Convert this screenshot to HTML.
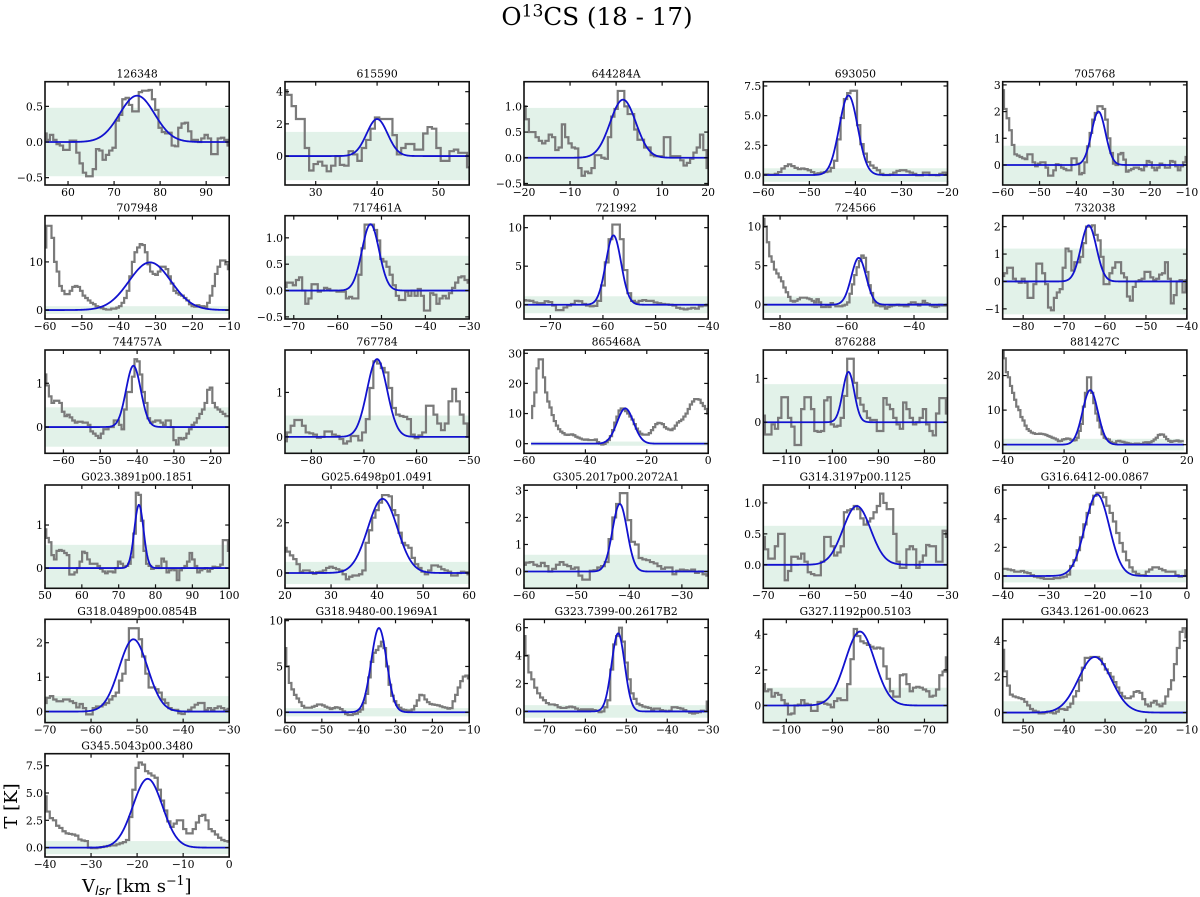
<!DOCTYPE html>
<html lang="en">
<head>
<meta charset="utf-8">
<title>O13CS (18 - 17) spectra</title>
<style>
html,body{margin:0;padding:0;background:#fff;}
svg{display:block;font-family:"DejaVu Serif","Liberation Serif",serif;}
</style>
</head>
<body>
<svg id="figure" xmlns="http://www.w3.org/2000/svg" width="1200" height="897" viewBox="0 0 1200 897">
<rect x="0" y="0" width="1200" height="897" fill="#ffffff"/>
<text x="597" y="25" text-anchor="middle" font-size="24.6" fill="#000">O<tspan dy="-8.5" font-size="17.2">13</tspan><tspan dy="8.5">CS (18 - 17)</tspan></text>
<text transform="translate(17,806) rotate(-90)" text-anchor="middle" font-size="18" fill="#000">T [K]</text>
<text x="82" y="892" font-size="18" fill="#000">V<tspan dy="3" font-size="12.6" font-style="italic" font-family="'DejaVu Sans',sans-serif">lsr</tspan><tspan dy="-3"> [km s</tspan><tspan dy="-7" font-size="12.6">−1</tspan><tspan dy="7">]</tspan></text>
<g id="panels"></g>
</svg>
<script>
const panelNames = ["126348","615590","644284A","693050","705768",
  "707948","717461A","721992","724566","732038",
  "744757A","767784","865468A","876288","881427C",
  "G023.3891p00.1851","G025.6498p01.0491","G305.2017p00.2072A1","G314.3197p00.1125","G316.6412-00.0867",
  "G318.0489p00.0854B","G318.9480-00.1969A1","G323.7399-00.2617B2","G327.1192p00.5103","G343.1261-00.0623",
  "G345.5043p00.3480"];

const xMin = [55,25,-20,-60,-60, -60,-72,-75,-85,-85, -65,-85,-60,-115,-40, 50,20,-60,-70,-40, -70,-60,-75,-105,-55, -40];
const xMax = [95,55,20,-20,-10, -10,-30,-40,-30,-40, -15,-50,0,-75,20, 100,60,-25,-30,0, -30,-10,-30,-65,-10, 0];
const yMin = [-0.603,-1.8,-0.53,-0.84,-0.75, -1.86,-0.54,-1.85,-1.83,-1.37, -0.6,-0.37,-3.2,-0.71,-2.5, -0.47,-0.61,-0.62,-0.38,-0.86, -0.32,-1.13,-0.8,-0.96,-0.56, -0.86];
const yMax = [0.846,4.62,1.48,7.86,3.12, 19.6,1.42,11.55,11.4,2.4, 1.76,1.955,31.1,1.65,27.4, 1.93,3.5,3.2,1.29,6.35, 2.68,10.15,6.6,4.84,5.2, 8.6];

const specStart = [55,25,-20,-60,-60, -60,-72,-75,-85,-85, -65,-85,-57.7,-115,-40, 50,20,-60,-70,-40, -70,-60,-75,-105,-55, -40];
const specEnd = [95,55,20,-20,-10, -10,-30,-40,-30,-40, -15,-50,0,-75,19, 100,60,-25,-30,0, -30,-10,-30,-65,-10, 0];

const rmsLevel = [0.48,1.5,0.97,0.57,0.72, 0.8,0.66,1.1,1.05,1.2, 0.45,0.48,0.7,0.87,1.7, 0.54,0.44,0.62,0.63,0.45, 0.45,0.45,0.45,1.0,0.63, 0.6];

const fitAmp = [0.65,2.3,1.13,6.7,2.0, 9.9,1.26,9.0,6.0,2.05, 1.4,1.75,11.7,1.15,15.8, 1.47,2.95,2.5,0.95,5.7, 2.1,9.2,5.6,4.15,3.1, 6.3];
const fitCenter = [75,40,1.5,-41.5,-34, -31.5,-52.5,-58,-56.5,-64, -41,-67.5,-27,-96.5,-11.5, 75.5,41.2,-41.8,-49.7,-19.5, -50.8,-34.5,-52,-84,-32.5, -17.7];
const fitSigma = [3.8,1.7,2.8,2.0,1.9, 5.7,1.95,1.45,2.2,1.9, 2.0,1.9,2.7,1.25,2.5, 1.25,3.2,1.4,3.0,2.65, 3.1,2.1,1.6,3.2,4.0, 3.2];

const xTickValues = [
  [60,70,80,90],[30,40,50],[-20,-10,0,10,20],[-60,-50,-40,-30,-20],[-60,-50,-40,-30,-20,-10],
  [-60,-50,-40,-30,-20,-10],[-70,-60,-50,-40,-30],[-70,-60,-50,-40],[-80,-60,-40],[-80,-70,-60,-50,-40],
  [-60,-50,-40,-30,-20],[-80,-70,-60,-50],[-60,-40,-20,0],[-110,-100,-90,-80],[-40,-20,0,20],
  [50,60,70,80,90,100],[20,30,40,50,60],[-60,-50,-40,-30],[-70,-60,-50,-40,-30],[-40,-30,-20,-10,0],
  [-70,-60,-50,-40,-30],[-60,-50,-40,-30,-20,-10],[-70,-60,-50,-40,-30],[-100,-90,-80,-70],[-50,-40,-30,-20,-10],
  [-40,-30,-20,-10,0]];
const yTickLabels = [
  ["-0.5","0.0","0.5"],["0","2","4"],["-0.5","0.0","0.5","1.0"],["0.0","2.5","5.0","7.5"],["0","1","2","3"],
  ["0","10"],["-0.5","0.0","0.5","1.0"],["0","5","10"],["0","5","10"],["-1","0","1","2"],
  ["0","1"],["0","1"],["0","10","20","30"],["0","1"],["0","10","20"],
  ["0","1"],["0","2"],["0","1","2","3"],["0.0","0.5","1.0"],["0","2","4","6"],
  ["0","1","2"],["0","5","10"],["0","2","4","6"],["0","2","4"],["0","2","4"],
  ["0.0","2.5","5.0","7.5"]];

const spec126348 = [.12,.03,.1,.03,-.03,-.05,-.11,-.11,.02,.02,-.15,-.3,-.43,-.48,-.48,-.38,-.1,-.12,-.25,-.18,-.12,-.08,.3,.38,.6,.62,.52,.43,.43,.7,.72,.72,.73,.6,.45,.2,.14,.12,.13,-.05,-.06,.2,.26,.27,.15,.03,.03,0,.05,.1,.05,-.17,-.17,.05,.06,.03,-.05];
const spec615590 = [4.1,3.8,3.1,2.3,2.3,.5,-.9,-.5,-.35,-.6,-.95,-.6,0,-.55,-.6,.3,.1,-.3,.5,1,1.7,2.4,2.3,2.3,2.3,1.3,.1,.5,.75,.75,.4,.4,1.4,1.8,1.7,.5,-.3,-.3,.3,.4,.2,.2,-.7];
const spec644284A = [1,.75,.5,.5,.4,.33,.28,.33,.45,.4,.15,.2,.65,.4,.28,.2,.18,-.2,-.35,-.27,-.3,-.2,.05,.05,0,-.02,.4,.8,.95,1.3,1.3,1,.85,.85,.55,.35,.35,.2,.2,.05,.03,.03,.03,.4,.4,.03,.03,.03,-.05,-.15,-.1,-.02,.1,.2,.45,.15,-.2];
const spec693050 = [.05,.05,.03,.03,.1,.25,.55,.75,.9,.75,.6,.5,.55,.5,.4,.25,.1,.15,.2,.25,.3,.6,1.2,3,4.8,6.4,6.9,7.1,7.1,4.2,2.6,1.8,1.1,.8,.6,.4,.1,0,0,.05,.2,.35,.4,.4,.3,.2,.1,-.02,-.02,.2,.2,0,0,-.02,.1,.2,.05];
const spec705768 = [2.8,2.1,1.75,1.3,.75,.4,.35,.3,.25,.22,.4,.4,.1,-.05,.05,.1,.1,-.1,-.4,-.4,-.2,.03,0,-.1,-.15,-.2,-.2,.25,.25,.05,-.35,-.3,.1,.7,1.2,1.7,1.95,2.2,2.2,2.1,1.7,1,.45,.05,0,.4,.45,.2,-.25,-.2,-.15,-.1,-.1,-.15,-.2,-.05,.15,.1,-.1,-.2,-.1,.05,0,-.1,-.1,.15,.12,-.05,-.2,-.05,.1,.3];
const spec707948 = [13,17.5,17.5,15,10,8,5,4,3.3,3.3,4,4.8,5,4.8,4,3,2.5,2,1.5,1.2,.8,.6,.4,.2,.1,.1,.3,.3,.5,.8,1.5,2.5,4,7,10,12,13,13.7,13.5,12,9.5,8,7.5,7.3,8,9,9,8.5,7,5.5,4,3.5,3.2,3,2.5,2,1.2,.8,.7,1,.8,.8,.6,1.5,3,5,7.5,9,10.3,10.3,9.5,8.5];
const spec717461A = [.07,.15,.15,.1,.2,.25,0,-.25,-.15,.12,.12,-.02,0,.05,.03,0,0,-.02,-.02,-.02,-.15,-.12,-.15,-.15,.3,.8,1.25,1.25,1.25,1.15,.95,.6,.55,.45,.3,.1,-.1,-.18,-.18,-.02,-.1,0,-.1,.03,-.1,-.38,-.38,-.05,-.08,-.25,-.15,-.1,-.15,-.05,.05,.15,.25,.27,.2,.15];
const spec721992 = [.6,.55,.5,.3,.2,.2,.45,.35,-.1,-.7,-.7,-.35,-.1,.1,.5,.45,.1,-.1,-.2,-.15,.5,2.5,5.5,8.5,10.4,10.4,8.5,4.5,1.5,.5,.3,.5,.6,.5,.5,.3,.2,.1,.05,0,-.1,-.4,-.5,-.6,-.5,-.4,-.5,-.2,-.1,0];
const spec724566 = [11,10,8,6.2,5.5,4.5,4,3.5,3,2.2,1.6,1,.5,.4,.5,.7,.9,.9,.9,.8,.7,.5,.3,.7,.3,-.3,-.3,-.1,-.3,.2,0,-.2,-.2,-.2,-.1,0,.3,1.4,2.6,3.8,4.8,5.6,6.3,6,4.2,2.5,1.5,.3,-.1,-.1,-.2,-.2,-.5,-.3,-.2,-.1,-.05,0,-.1,-.1,-.2,-.2,.1,.3,.3,.1,-.1,.1,.5,.2,.1,-.1,-.2,-.3,-.2,0,-.1,-.1,0];
const spec732038 = [.2,.3,.5,.5,.1,0,-.05,.1,-.05,-.6,-.6,-.1,.65,.65,.3,-.1,-.95,-1.05,-.6,-.4,-.28,.5,1.2,1.1,.4,.7,.7,.9,1.4,2,2,2.05,1.7,1.5,.9,-.1,-.1,.3,.5,.7,.7,.3,.15,-.55,-.7,-.2,0,.05,.1,.35,.35,.15,.05,.1,.25,.3,.7,.1,-.8,-.5,0,.05,-.4,.05];
const spec744757A = [1.2,.95,.7,.55,.6,.6,.55,.35,.25,.28,.22,.15,.1,.12,.12,.1,.1,.05,-.1,-.15,-.2,-.25,-.15,-.05,-.05,0,0,.15,.15,.05,-.05,.4,.8,.8,1.15,1.55,1.5,1.2,.8,.55,.2,.1,.12,.15,.15,.1,.05,.15,.15,0,-.3,-.4,-.25,-.28,-.25,-.15,-.05,.05,.1,.2,.3,.4,.55,.85,.9,.55,.45,.4,.35,.3,.25,.25];
const spec767784 = [-.1,.1,.25,.38,.38,.25,.1,.08,.05,-.02,0,.12,.12,.05,.02,-.05,-.15,-.1,.02,.02,-.08,.1,.4,1.1,1.7,1.65,1.55,1.45,1.1,.65,.5,.47,.45,.4,.05,-.03,.03,.1,.7,.7,.5,.3,.15,.3,.8,1.08,.8,.5,.3,0];
const spec865468A = [8.5,12.5,17,25,28,28,22,17,14,12,9.5,7.5,6,4.8,4,3.5,3,2.9,3,3.1,2.8,2.3,2,1.7,1.4,1.3,1.4,1.2,1.2,1.2,1.4,.5,0,-.3,-.1,.5,1.2,2.5,4.5,7,9,11,11.7,11.7,10.8,10,9,8,6.5,5,4,3.3,3,3,3,3.5,4.5,5.5,6.5,6.9,6.8,6.5,5.5,5,4.7,4.5,5,6,7,7.5,8,9,10,11.5,13,14,14.8,14.8,14.6,13.5,12.5,11.5,10];
const spec876288 = [.15,-.28,-.28,-.05,-.15,.1,.57,.57,.1,-.1,-.52,-.52,.3,.57,.57,.3,-.2,-.22,-.2,.5,.57,-.05,-.1,-.08,.1,.6,1.45,1.45,.9,.55,.4,.25,.1,.05,.05,-.2,-.2,.55,.4,.3,.1,-.05,-.15,.45,.3,.1,-.05,0,.1,.3,-.05,-.2,-.3,.2,.55,.55,.2];
const spec881427C = [27,25,21,19.5,17,15,13,11,10,8,7,5.5,4.5,4,3.5,3.3,3.1,3.1,3.2,3.1,3,2.8,2.5,2.3,2,1.8,1.5,1,1.1,1.5,1.6,1.8,1.7,1.4,1.2,1.3,2,4,6,11,15,19.5,19.5,15,12,9,7,5,3,2,1.7,1.5,.8,.5,.5,1,1.1,.9,.8,.6,.5,.3,.2,.1,.3,.3,.1,.2,.6,.7,.3,.7,1,1.5,2,2.8,3,2.9,2.3,1.6,1.1,.8,1,1.1,1.2,.9,1,1];
const specG023 = [.9,.7,.6,.3,.2,.4,.42,.4,.35,.3,-.15,-.15,-.1,0,.15,.38,.35,.2,.1,.1,.1,.05,-.02,-.08,-.12,-.08,-.08,-.1,0,.15,.1,.03,.05,.1,.25,.8,1.75,1.7,1.1,.4,.1,.05,-.02,0,.05,0,.22,.15,-.1,-.05,-.02,-.05,-.28,-.05,0,.05,.15,.35,.2,.05,-.1,-.05,-.02,0,-.08,-.02,.03,.02,.02,.08,.65,.65,.4];
const specG025 = [1,.85,.7,.55,.35,.05,.1,.1,.03,-.03,.03,.05,.1,.2,.25,.2,.15,.1,-.05,-.25,-.15,-.1,-.1,-.05,.1,1.2,1.7,2.2,2.5,2.8,3.1,3.1,3.05,2.5,2.3,1.6,1.2,1.1,1,.6,.35,.2,.05,-.05,.1,.3,.3,.25,.15,.1,.05,-.1,-.1,0,.05,.03,-.05];
const specG305 = [.25,.33,.35,.25,.2,.32,.2,0,.1,.25,.35,.25,.2,.1,.15,-.15,-.3,-.3,.03,.05,.15,.2,.35,1.2,2,2.5,2.9,2.9,1.9,1.1,1,.5,.45,.42,.35,.3,.2,.1,.15,.15,-.1,.03,.07,.05,.03,.07,-.05,0,-.1,-.15];
const specG314 = [.45,.25,.1,.1,.3,.5,.5,-.25,-.1,.13,.13,.1,.18,.05,-.12,-.15,-.17,-.17,.05,.45,.45,.3,.15,.2,.3,.85,.88,.9,.95,.9,.75,.65,.7,.75,.85,.95,1.15,1,.9,.9,.5,.05,-.05,-.05,.25,.3,.25,-.05,.05,.15,.32,.3,.3,.05,.05,.55,.45];
const specG316 = [.5,.5,.45,.4,.3,.3,.35,.25,.2,.05,-.05,-.1,-.15,-.2,-.2,-.2,-.15,-.15,-.1,-.05,.1,.7,1.1,1.8,2.7,3.6,4.4,5,5.6,5.8,5.8,5.5,4.9,4.4,3.8,3,2.3,1.7,1.1,.6,.3,.15,.05,.05,.3,.45,.6,.6,.5,.4,.3,.3,.3,.05,-.05,0,.4];
const specG318A = [.25,.4,.45,.35,.3,.3,.35,.35,.3,.25,.12,.22,.1,-.08,-.08,.1,.15,.15,.2,.25,.35,.45,.55,.9,1.1,1.5,2.42,2.42,2.42,2.1,1.6,1.1,.7,.7,.65,.55,.35,.25,.1,.05,.05,-.05,-.07,0,.05,.12,.2,.25,.25,.05,.1,.05,.1,.15,.1,.05,.08];
const specG318B = [7,5,3.2,2.5,1.9,1.5,1.1,.7,.5,.5,.5,.6,.7,.85,.85,.75,.6,.5,.35,.45,.55,.5,.35,.1,-.2,-.3,-.3,-.2,-.15,.05,.3,1,2,3.8,5.5,6.5,6.8,7.2,7.7,7,5,3,1.8,1.2,.8,.5,.3,.25,.15,.2,.3,.7,1.3,1.9,1.85,1.4,1.1,.9,.85,.8,.75,.65,.55,.5,.4,.45,1.2,1.9,2.7,3.4,3.9,4,3.7];
const specG323 = [5.4,4,2.8,2.3,1.7,1.3,1,.8,.6,.5,.5,.45,.3,.25,.25,.3,.35,.3,.2,.1,.15,.15,.15,.15,.1,.05,-.05,0,.3,.8,3,4.8,5.4,6,5,3.5,2.3,1.3,.9,.55,.45,.35,.3,.25,.15,.2,.2,.1,.05,0,.05,.3,.3,.25,.2,.1,0,-.1,-.15,-.1,-.05,.05,0,.7];
const specG327 = [1.2,.8,.9,.5,.7,.6,.3,.1,-.5,-.45,0,.05,.3,.1,.05,-.3,-.3,.2,.2,.1,.05,-.1,.25,.4,.3,.3,1.2,2.6,4.3,3.9,3.6,3.5,3.4,3.3,3.2,3.25,3.2,2.2,1.5,.8,.5,.5,1.7,1.75,1.2,.8,1,1.05,1,.9,.8,.5,.55,.9,1.7,1.9,2.7];
const specG343 = [3.5,2.3,1.5,1,.9,.85,.8,.75,.6,.4,.2,.1,.05,-.05,-.05,0,.05,0,-.05,.05,.2,.2,.15,.3,.5,.9,1.2,1.8,2.5,3.05,3.05,3.1,3.1,3.1,3,2.7,2.4,2.2,2,1.7,1.4,1.1,.9,.8,.8,.9,1.15,1.2,1.1,.75,.45,.35,.55,.65,.45,.35,.5,.9,1.3,1.8,2.7,3.6,4.5,4.7,4.2];
const specG345 = [4.7,3.3,2.7,2.5,2,1.8,1.5,1.3,1.25,1.2,1.1,.75,.65,.6,0,-.05,-.05,0,.05,.1,.15,.2,.2,.3,.4,.5,.7,2.8,5.3,7.3,7.8,7.6,7,6.8,6.6,6.4,5.3,4.3,3.4,2.4,1.9,2.2,2.5,2.5,1.7,1.3,1.3,1.7,2.3,2.9,3,2.5,1.7,1.5,1.2,.9,.7,.6,.55];

const spectra = [spec126348,spec615590,spec644284A,spec693050,spec705768,
  spec707948,spec717461A,spec721992,spec724566,spec732038,
  spec744757A,spec767784,spec865468A,spec876288,spec881427C,
  specG023,specG025,specG305,specG314,specG316,
  specG318A,specG318B,specG323,specG327,specG343,
  specG345];

const SVGNS = "http://www.w3.org/2000/svg";
const panelsRoot = document.getElementById("panels");
const gridLeft = [45, 285, 524, 763.3, 1002.7];
const gridTop = [81.7, 215.7, 350, 485, 619.3, 753.7];
const panelW = 184.2, panelH = 103.3, tickLen = 4;

function make(tag, attrs, parent) {
  const el = document.createElementNS(SVGNS, tag);
  for (const k in attrs) el.setAttribute(k, attrs[k]);
  parent.appendChild(el);
  return el;
}

panelNames.forEach(function (name, p) {
  const left = gridLeft[p % 5];
  const top = gridTop[Math.floor(p / 5)];
  const sx = function (v) { return left + (v - xMin[p]) / (xMax[p] - xMin[p]) * panelW; };
  const sy = function (t) { return top + panelH - (t - yMin[p]) / (yMax[p] - yMin[p]) * panelH; };

  const g = make("g", {}, panelsRoot);
  
  

  const clip = make("clipPath", { id: "clip" + p }, g);
  make("rect", { x: left, y: top, width: panelW, height: panelH }, clip);

  const shade = make("rect", {
    x: sx(specStart[p]), y: sy(rmsLevel[p]),
    width: sx(specEnd[p]) - sx(specStart[p]),
    height: sy(-rmsLevel[p]) - sy(rmsLevel[p]),
    fill: "#e2f2e9", "clip-path": "url(#clip" + p + ")"
  }, g);
  
  

  const values = spectra[p];
  const dv = (specEnd[p] - specStart[p]) / (values.length - 1);
  let d = "M" + sx(specStart[p]).toFixed(2) + " " + sy(values[0]).toFixed(2);
  values.forEach(function (t, i) {
    const v = specStart[p] + i * dv;
    if (i > 0) {
      d += "H" + sx(v - dv / 2).toFixed(2) + "V" + sy(t).toFixed(2);
    }
    if (i === values.length - 1) d += "H" + sx(v).toFixed(2);
  });
  const spectrum = make("path", {
    d: d, fill: "none", stroke: "#7a7a7a", "stroke-width": 2.2,
    "stroke-linejoin": "miter", "clip-path": "url(#clip" + p + ")"
  }, g);
  
  

  /* Gaussian fit drawn from its read-off amplitude, centre and width */
  let fd = "";
  const fitSteps = 240;
  for (let i = 0; i <= fitSteps; i++) {
    const v = specStart[p] + (specEnd[p] - specStart[p]) * i / fitSteps;
    const z = (v - fitCenter[p]) / fitSigma[p];
    const t = fitAmp[p] * Math.exp(-0.5 * z * z);
    fd += (i ? "L" : "M") + sx(v).toFixed(2) + " " + sy(t).toFixed(2);
  }
  const fit = make("path", {
    d: fd, fill: "none", stroke: "#1212cf", "stroke-width": 1.8,
    "clip-path": "url(#clip" + p + ")"
  }, g);
  
  

  const frame = make("rect", {
    x: left, y: top, width: panelW, height: panelH,
    fill: "none", stroke: "#111", "stroke-width": 1.6
  }, g);
  
  

  const title = make("text", {
    x: left + panelW / 2, y: top - 4.4, "text-anchor": "middle",
    "font-size": 10.8, fill: "#000"
  }, g);
  title.textContent = name;
  
  

  xTickValues[p].forEach(function (v) {
    const x = sx(v);
    const tb = make("line", { x1: x, x2: x, y1: top + panelH, y2: top + panelH - tickLen, stroke: "#111", "stroke-width": 1.2 }, g);
    
    
    const tt = make("line", { x1: x, x2: x, y1: top, y2: top + tickLen, stroke: "#111", "stroke-width": 1.2 }, g);
    
    
    const label = make("text", {
      x: x, y: top + panelH + 10.8, "text-anchor": "middle",
      "font-size": 10.8, fill: "#000"
    }, g);
    label.textContent = String(v).replace("-", "\u2212");
    
    
  });

  yTickLabels[p].forEach(function (s) {
    const y = sy(Number(s));
    const tl = make("line", { x1: left, x2: left + tickLen, y1: y, y2: y, stroke: "#111", "stroke-width": 1.2 }, g);
    
    
    const tr = make("line", { x1: left + panelW, x2: left + panelW - tickLen, y1: y, y2: y, stroke: "#111", "stroke-width": 1.2 }, g);
    
    
    const label = make("text", {
      x: left - 2, y: y + 4, "text-anchor": "end",
      "font-size": 10.8, fill: "#000"
    }, g);
    label.textContent = s.replace("-", "\u2212");
    
    
  });
});
</script>
</body>
</html>
